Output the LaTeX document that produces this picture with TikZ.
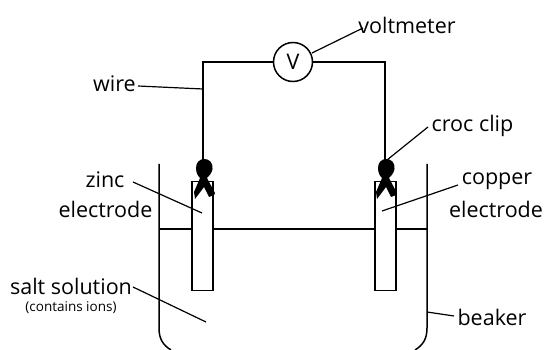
\documentclass[tikz,border=0pt]{standalone}
\usepackage{fontspec}
\setmainfont{Open Sans}
\tikzset{
  x=1pt,y=-1pt,
  line/.style={draw=black,line width=1.5pt,line join=miter},
  thinline/.style={draw=black,line width=1.2pt},
  lbl/.style={inner sep=0pt,font=\fontsize{21.5}{21.5}\selectfont,text=black},
  smalllbl/.style={inner sep=0pt,font=\fontsize{13.5}{13.5}\selectfont,text=black},
  clipshape/.pic={
    \fill[black] (0,-9) .. controls (5,-9) and (9,-6) .. (8.5,1)
      .. controls (8,5) and (5,8) .. (3,10)
      -- (11,25) -- (10,27) -- (5,29) -- (0,19) -- (-9,31) -- (-10,24) -- (-4,10)
      .. controls (-6,8) and (-8,5) .. (-8,0)
      .. controls (-8,-6) and (-4,-9) .. (0,-9) -- cycle;
  }
}
\begin{document}
\begin{tikzpicture}
\useasboundingbox (0,0) rectangle (544,350);
% electrodes and solution
\node[draw=black,line width=1.3pt,minimum width=21pt,minimum height=109pt,inner sep=0pt] (zn) at (202.5,236) {};
\node[draw=black,line width=1.3pt,minimum width=21pt,minimum height=109pt,inner sep=0pt] (cu) at (385.5,236) {};
\coordinate (bl) at (159,164);
\coordinate (br) at (427,164);
\coordinate (wl) at (159,229);
\coordinate (wr) at (427,229);
\draw[line] (bl) -- (159,328) .. controls (159,339) and (163,345) .. (171,350);
\draw[line] (br) -- (427,328) .. controls (427,339) and (423,345) .. (415,350);
\draw[thinline] (wl) -- (wl-|zn.west);
\draw[thinline] (wl-|zn.east) -- (wl-|cu.west);
\draw[thinline] (wl-|cu.east) -- (wr);
% voltmeter
\node[draw=black,line width=1.5pt,circle,minimum size=39pt,inner sep=0pt,lbl] (vm) at (293,62) {V};
\coordinate (zclip) at (204,168);
\coordinate (cclip) at (386,168);
\draw[line] (vm.west) -- (203,62) -- (203,165);
\draw[line] (vm.east) -- (385,62) -- (385,165);
\pic at (zclip) {clipshape};
\pic at (cclip) {clipshape};
% labels
\node[lbl] (lv) at (407,25) {voltmeter};
\node[lbl] (lw) at (114.5,84) {wire};
\node[lbl] (lc) at (472.5,126) {croc clip};
\node[lbl] (lz) at (105,180) {zinc};
\node[lbl] (lze) at (105.5,209) {electrode};
\node[lbl] (lcu) at (497,181) {copper};
\node[lbl] (lce) at (496,209) {electrode};
\node[lbl] (ls) at (71,286) {salt solution};
\node[smalllbl] (lsi) at (71,308) {(contains ions)};
\node[lbl] (lb) at (492,317) {beaker};
% leaders
\coordinate (a1) at (312,53);
\coordinate (a2) at (363,28);
\coordinate (a3) at (138,86);
\coordinate (a4) at (203,89);
\coordinate (a5) at (387,160);
\coordinate (a6) at (428,127);
\coordinate (a7) at (133,182);
\coordinate (a8) at (202,213);
\coordinate (a9) at (382,211);
\coordinate (a10) at (458,185);
\coordinate (a11) at (133,287);
\coordinate (a12) at (206,322);
\coordinate (a13) at (427,312);
\coordinate (a14) at (454,316);
\draw[thinline] (a1) -- (a2);
\draw[thinline] (a3) -- (a4);
\draw[thinline] (a5) -- (a6);
\draw[thinline] (a7) -- (a8);
\draw[thinline] (a9) -- (a10);
\draw[thinline] (a11) -- (a12);
\draw[thinline] (a13) -- (a14);
\end{tikzpicture}
\end{document}
